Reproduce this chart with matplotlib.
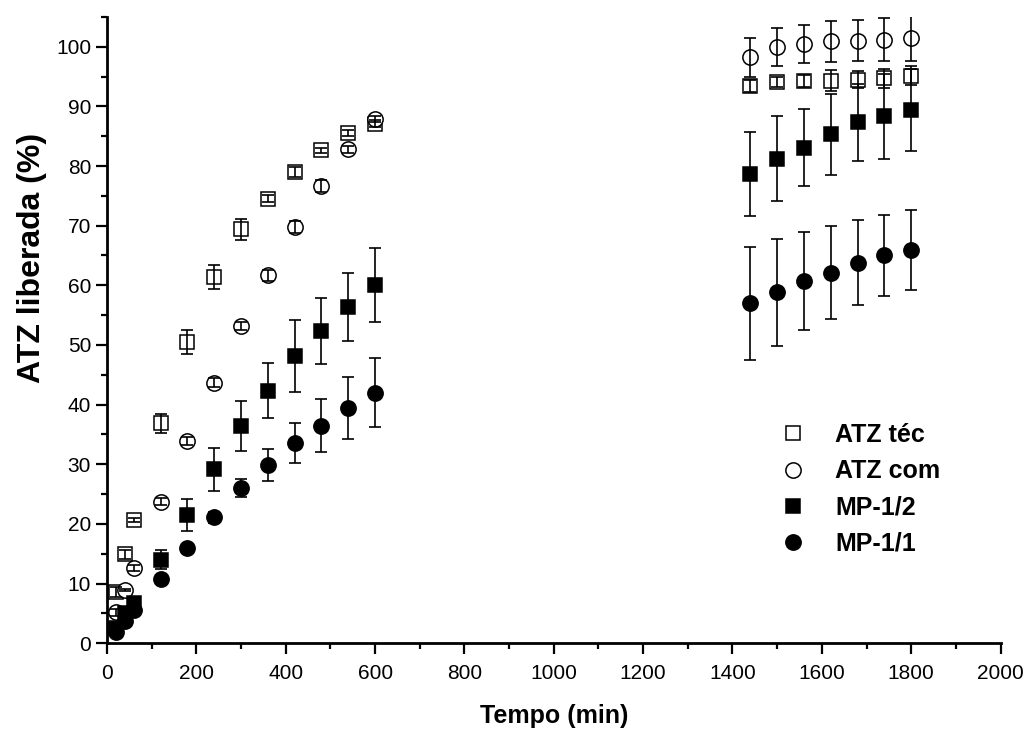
import matplotlib
matplotlib.use('Agg')
import matplotlib.pyplot as plt
from matplotlib.ticker import MultipleLocator

plt.rcParams['font.family'] = ['Liberation Sans', 'DejaVu Sans']

# tempo (min)
tempo = [20, 40, 60, 120, 180, 240, 300, 360, 420, 480, 540, 600,
         1440, 1500, 1560, 1620, 1680, 1740, 1800]

atz_tec = [8.6, 14.9, 20.7, 36.9, 50.5, 61.4, 69.4, 74.5, 79.0, 82.6, 85.6, 87.1,
           93.4, 94.1, 94.2, 94.3, 94.5, 94.7, 95.1]
atz_tec_err = [0.8, 0.7, 0.3, 1.6, 2.0, 2.0, 1.8, 0.6, 0.8, 0.5, 0.5, 0.6,
               1.0, 0.8, 1.0, 1.8, 1.4, 1.6, 1.6]

atz_com = [5.2, 8.9, 12.6, 23.7, 33.9, 43.7, 53.2, 61.7, 69.8, 76.7, 82.8, 87.9,
           98.2, 99.9, 100.5, 100.9, 101.0, 101.2, 101.5]
atz_com_err = [0.6, 0.2, 0.5, 0.6, 0.6, 0.7, 0.7, 0.9, 1.0, 1.0, 0.6, 0.5,
               3.2, 3.2, 3.2, 3.4, 3.4, 3.6, 3.9]

mp_12 = [2.5, 5.0, 6.8, 14.0, 21.5, 29.2, 36.4, 42.3, 48.2, 52.3, 56.4, 60.0,
         78.7, 81.2, 83.1, 85.3, 87.3, 88.3, 89.4]
mp_12_err = [0.5, 0.8, 1.0, 1.6, 2.75, 3.6, 4.2, 4.6, 6.0, 5.5, 5.7, 6.2,
             7.0, 7.1, 6.5, 6.8, 6.4, 7.2, 6.9]

mp_11 = [1.9, 3.8, 5.6, 10.8, 15.9, 21.1, 26.0, 29.9, 33.6, 36.5, 39.5, 42.0,
         57.0, 58.8, 60.7, 62.1, 63.8, 65.0, 65.9]
mp_11_err = [0.5, 0.5, 0.5, 0.7, 0.8, 0.9, 1.5, 2.7, 3.4, 4.4, 5.2, 5.8,
             9.5, 9.0, 8.2, 7.8, 7.1, 6.8, 6.7]

series = [
    ('ATZ téc', atz_tec, atz_tec_err, 's', 'white', 10),
    ('ATZ com', atz_com, atz_com_err, 'o', 'white', 11),
    ('MP-1/2', mp_12, mp_12_err, 's', 'black', 10),
    ('MP-1/1', mp_11, mp_11_err, 'o', 'black', 11),
]

fig = plt.figure(figsize=(10.26, 7.33), dpi=100)
ax = fig.add_axes([0.1043, 0.1224, 0.8709, 0.8546])

handles = []
for label, vals, err, mk, fc, ms in series:
    h, = ax.plot(tempo, vals, linestyle='none', marker=mk, markersize=ms,
                 markerfacecolor=fc, markeredgecolor='black', markeredgewidth=1.1,
                 label=label, zorder=2)
    ax.errorbar(tempo, vals, yerr=err, fmt='none', ecolor='black',
                elinewidth=1.2, capsize=4.5, capthick=1.2, zorder=3)
    handles.append(h)

ax.set_xlim(0, 2000)
ax.set_ylim(0, 105)
ax.xaxis.set_major_locator(MultipleLocator(200))
ax.xaxis.set_minor_locator(MultipleLocator(100))
ax.yaxis.set_major_locator(MultipleLocator(10))
ax.yaxis.set_minor_locator(MultipleLocator(5))

for side in ['top', 'right']:
    ax.spines[side].set_visible(False)
for side in ['left', 'bottom']:
    ax.spines[side].set_linewidth(2)

ax.tick_params(which='major', direction='out', length=8, width=1.6, labelsize=15)
ax.tick_params(which='minor', direction='out', length=4.5, width=1.6)
ax.tick_params(axis='x', which='major', pad=7)
ax.tick_params(axis='y', which='major', pad=3.5)

ax.set_xlabel('Tempo (min)', fontsize=18, fontweight='bold')
ax.xaxis.set_label_coords(0.5, -0.097)
ax.set_ylabel('ATZ liberada (%)', fontsize=23, fontweight='bold')
ax.yaxis.set_label_coords(-0.067, 0.615)

ax.legend(handles=handles, loc='upper left', frameon=False,
          bbox_to_anchor=(780.5 / 1026, 1 - 423 / 733),
          bbox_transform=fig.transFigure, borderpad=0, borderaxespad=0,
          handlelength=1.0, handletextpad=1.18, labelspacing=0.49,
          prop={'size': 18, 'weight': 'bold'})

fig.savefig('out.png', dpi=100)
